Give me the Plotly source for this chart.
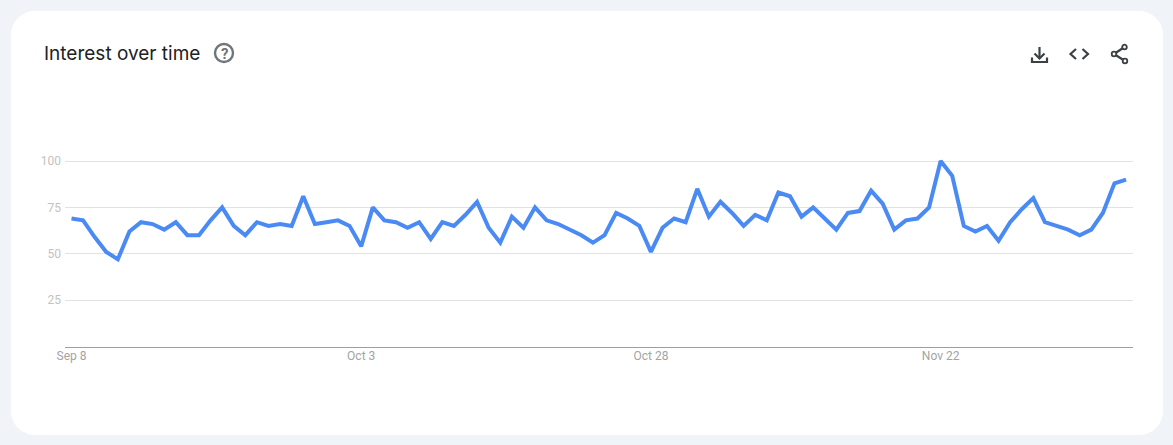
import plotly.graph_objects as go
import pandas as pd

START_DATE = "2024-09-08"
interest = [69, 68, 59, 51, 47, 62, 67, 66, 63, 67, 60, 60, 68, 75, 65, 60, 67, 65, 66, 65,
            81, 66, 67, 68, 65, 54, 75, 68, 67, 64, 67, 58, 67, 65, 71, 78, 64, 56, 70, 64,
            75, 68, 66, 63, 60, 56, 60, 72, 69, 65, 51, 64, 69, 67, 85, 70, 78, 72, 65, 71,
            68, 83, 81, 70, 75, 69, 63, 72, 73, 84, 77, 63, 68, 69, 75, 100, 92, 65, 62, 65,
            57, 67, 74, 80, 67, 65, 63, 60, 63, 72, 88, 90]
x_tick_dates = ["2024-09-08", "2024-10-03", "2024-10-28", "2024-11-22"]
x_tick_labels = ["Sep 8", "Oct 3", "Oct 28", "Nov 22"]
y_ticks = [25, 50, 75, 100]

W, H = 1173, 445
PAGE = "#f0f4f9"
INK = "#3c4043"
dates = pd.date_range(START_DATE, periods=len(interest))


def px(x):
    return x / W


def py(y):
    return 1 - y / H


def path(*cmds):
    """Build an SVG path in paper coordinates from page-pixel commands."""
    out = []
    for c in cmds:
        if isinstance(c, str):
            out.append(c)
        else:
            out.append(f"{px(c[0]):.6f},{py(c[1]):.6f}")
    return " ".join(out)


def rounded(x0, y0, x1, y1, r):
    k = r * 0.45
    return path("M", (x0 + r, y0), "L", (x1 - r, y0),
                "C", (x1 - k, y0), (x1, y0 + k), (x1, y0 + r), "L", (x1, y1 - r),
                "C", (x1, y1 - k), (x1 - k, y1), (x1 - r, y1), "L", (x0 + r, y1),
                "C", (x0 + k, y1), (x0, y1 - k), (x0, y1 - r), "L", (x0, y0 + r),
                "C", (x0, y0 + k), (x0 + k, y0), (x0 + r, y0), "Z")


def circle(cx, cy, r, line_color, width, fill="rgba(0,0,0,0)"):
    return dict(type="circle", xref="paper", yref="paper", layer="above",
                x0=px(cx - r), x1=px(cx + r), y0=py(cy + r), y1=py(cy - r),
                line=dict(color=line_color, width=width), fillcolor=fill)


def stroke(d, width=2.2, color=INK):
    return dict(type="path", xref="paper", yref="paper", layer="above", path=d,
                line=dict(color=color, width=width))


shapes = [
    dict(type="path", xref="paper", yref="paper", layer="below",
         path=rounded(11, 11, 1163, 435, 24), fillcolor="white", line=dict(width=0)),
    circle(224, 53, 9, "#70757a", 2.4),
    # download
    stroke(path("M", (1039.5, 47), "L", (1039.5, 58))),
    stroke(path("M", (1034.5, 53.5), "L", (1039.5, 58.5), "L", (1044.5, 53.5))),
    stroke(path("M", (1032, 57.5), "L", (1032, 62), "L", (1047, 62), "L", (1047, 57.5))),
    # embed
    stroke(path("M", (1076, 49), "L", (1070.5, 54), "L", (1076, 59))),
    stroke(path("M", (1082.5, 49), "L", (1088, 54), "L", (1082.5, 59))),
    # share
    stroke(path("M", (1124.5, 47), "L", (1114, 54), "L", (1125, 61))),
    circle(1124.5, 47, 2.3, INK, 1.8, "white"),
    circle(1114, 54, 2.3, INK, 1.8, "white"),
    circle(1125, 61, 2.3, INK, 1.8, "white"),
]

annotations = [
    dict(text="Interest over time", xref="paper", yref="paper", x=px(43), y=py(54),
         xanchor="left", yanchor="middle", showarrow=False, xshift=-1,
         font=dict(family="Inter, Lato, sans-serif", size=19, color="#202124")),
    dict(text="?", xref="paper", yref="paper", x=px(224), y=py(53.5),
         xanchor="center", yanchor="middle", showarrow=False,
         font=dict(family="Roboto, sans-serif", size=15, weight=700, color="#70757a")),
]

# Axis geometry: 0 sits at y=346.5 and 100 at y=161; the extra headroom keeps the peak unclipped.
Y_TOP = 120
y0_px, y_top_px = 346.5, 346.5 - 1.855 * Y_TOP
day = pd.Timedelta(days=1)

fig = go.Figure(go.Scatter(x=dates, y=interest, mode="lines",
                           line=dict(color="#4a8af4", width=4),
                           hoverinfo="skip"))
fig.update_layout(
    width=W, height=H, margin=dict(l=0, r=0, t=0, b=0, autoexpand=False),
    paper_bgcolor=PAGE, plot_bgcolor="rgba(0,0,0,0)", showlegend=False,
    shapes=shapes, annotations=annotations,
    font=dict(family="Roboto, sans-serif"),
    xaxis=dict(domain=[px(65), px(1133)], type="date",
               range=[dates[0] - 0.56 * day, dates[-1] + 0.6 * day],
               tickmode="array", tickvals=x_tick_dates, ticktext=x_tick_labels,
               showgrid=False, zeroline=False, showline=True, linecolor="#9e9e9e", linewidth=1,
               ticks="", tickfont=dict(size=12, color="#a3a3a3"), anchor="y", ticklabelstandoff=-2),
    yaxis=dict(domain=[py(y0_px), py(y_top_px)], range=[0, Y_TOP],
               tickmode="array", tickvals=y_ticks, ticktext=[str(v) for v in y_ticks],
               showgrid=True, gridcolor="#e2e2e2", gridwidth=1, zeroline=False, showline=False,
               ticks="", tickfont=dict(size=12, color="#c2c2c2"), anchor="x", ticklabelstandoff=3),
)

fig.write_html(
    "out.html",
    config=dict(displayModeBar=False),
    post_script=("document.documentElement.style.background='%s';"
                 "document.body.style.margin='0';"
                 "document.body.style.overflow='hidden';"
                 "document.querySelectorAll('.scatterlayer path.js-line')"
                 ".forEach(p=>p.style.strokeLinejoin='miter');") % PAGE,
)
